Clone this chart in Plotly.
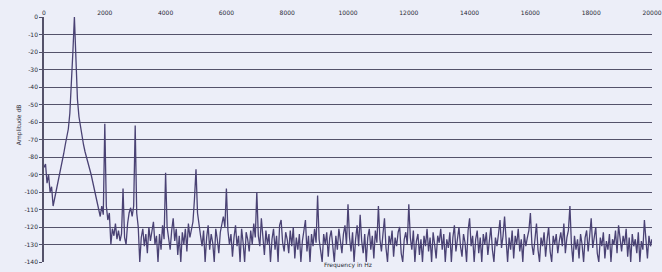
import plotly.graph_objects as go

# Frequency bins (Hz) and amplitude readings (dB)
amplitude_db = [
    -86, -84, -95, -90, -100, -97, -108, -104, -99, -95, -90, -86, -82, -78, -73, -69, -64, -55, -40, -20,
    0, -25, -47, -57, -63, -68, -73, -77, -80, -83, -86, -90, -94, -98, -102, -106, -110, -114, -108, -113,
    -61, -108, -116, -112, -130, -121, -125, -118, -127, -122, -128, -124, -98, -126, -130, -118, -112, -109, -114, -108,
    -62, -112, -120, -140, -126, -121, -131, -124, -135, -120, -128, -122, -117, -130, -125, -140, -124, -133, -119, -127,
    -89, -120, -126, -133, -122, -115, -128, -121, -136, -125, -140, -123, -130, -121, -134, -118, -126, -122, -117, -104,
    -87, -112, -120, -125, -131, -122, -140, -126, -119, -133, -124, -129, -140, -121, -127, -135, -123, -118, -114, -120,
    -98, -122, -130, -124, -137, -126, -119, -131, -125, -140, -121, -129, -140, -123, -127, -134, -122, -130, -118, -126,
    -100, -125, -131, -115, -128, -136, -122, -130, -124, -140, -127, -121, -133, -125, -140, -119, -116, -129, -134, -123,
    -127, -135, -122, -131, -120, -138, -126, -133, -124, -140, -128, -122, -116, -134, -125, -140, -124, -131, -121, -129,
    -102, -127, -133, -140, -124, -130, -123, -137, -126, -122, -131, -140, -125, -133, -121, -128, -135, -124, -119, -130,
    -107, -126, -134, -123, -140, -127, -119, -131, -113, -128, -135, -124, -140, -126, -121, -133, -125, -138, -122, -129,
    -108, -127, -134, -124, -115, -132, -140, -125, -130, -122, -137, -126, -131, -123, -120, -135, -140, -127, -123, -130,
    -107, -126, -133, -122, -140, -128, -124, -136, -127, -140, -125, -131, -121, -134, -126, -140, -123, -130, -138, -125,
    -129, -121, -133, -124, -140, -127, -132, -123, -140, -126, -119, -134, -125, -120, -131, -137, -124, -129, -140, -122,
    -115, -131, -125, -140, -127, -122, -135, -126, -140, -124, -130, -123, -136, -128, -120, -133, -140, -126, -131, -124,
    -116, -132, -125, -114, -129, -140, -126, -133, -122, -138, -125, -130, -121, -134, -127, -140, -124, -131, -126, -122,
    -112, -130, -136, -125, -118, -133, -140, -126, -131, -123, -137, -127, -120, -134, -140, -125, -130, -124, -135, -128,
    -123, -131, -118, -135, -126, -122, -108, -130, -140, -125, -133, -127, -138, -124, -130, -140, -126, -122, -134, -125,
    -115, -132, -127, -120, -135, -140, -126, -131, -123, -138, -128, -133, -124, -140, -127, -130, -122, -135, -119, -128,
    -134, -125, -130, -121, -137, -126, -140, -124, -131, -127, -135, -123, -140, -128, -133, -116, -129, -138, -125, -131,
    -127,
]
freq_hz = list(range(0, 20001, 50))
x_ticks = list(range(0, 20001, 2000))
y_ticks = list(range(0, -141, -10))
x_title = "Frequency in Hz"
y_title = "Amplitude dB"

BG = "#eceef8"
GRID = "#54526a"
LINE = "#4a4274"
TXT = "#2a2a36"

fig = go.Figure()
fig.add_trace(go.Scatter(
    x=freq_hz, y=amplitude_db, mode="lines",
    line=dict(color=LINE, width=1.3), hoverinfo="skip", showlegend=False,
))

fig.update_layout(
    width=662, height=272,
    margin=dict(l=44, r=10, t=17, b=7),
    paper_bgcolor=BG, plot_bgcolor=BG,
    font=dict(family="DejaVu Sans", size=6, color=TXT),
    hovermode=False,
    xaxis=dict(
        side="top", range=[0, 20000], tickvals=x_ticks,
        ticktext=[str(v) for v in x_ticks],
        showgrid=False, zeroline=False, showline=False,
        ticks="", tickfont=dict(size=6, color=TXT),
        ticklabeloverflow="allow", automargin=False,
    ),
    yaxis=dict(
        range=[-140, 0], tickvals=y_ticks,
        ticktext=[str(v) for v in y_ticks],
        showgrid=True, gridcolor=GRID, gridwidth=1.4,
        zeroline=False, showline=True, linecolor=GRID, linewidth=1.6,
        ticks="outside", ticklen=3, tickcolor=GRID,
        tickfont=dict(size=6, color=TXT),
    ),
    annotations=[
        dict(text=y_title, xref="paper", yref="paper", x=-0.052, y=0.56,
             showarrow=False, textangle=-90, font=dict(size=6, color=TXT)),
        dict(text=x_title, xref="paper", yref="paper", x=0.5, y=0,
             yanchor="middle", yshift=-3, showarrow=False,
             font=dict(size=6, color=TXT)),
    ],
)

fig.write_html("out.html", config={"displayModeBar": False},
               post_script="document.body.style.margin='0';")
